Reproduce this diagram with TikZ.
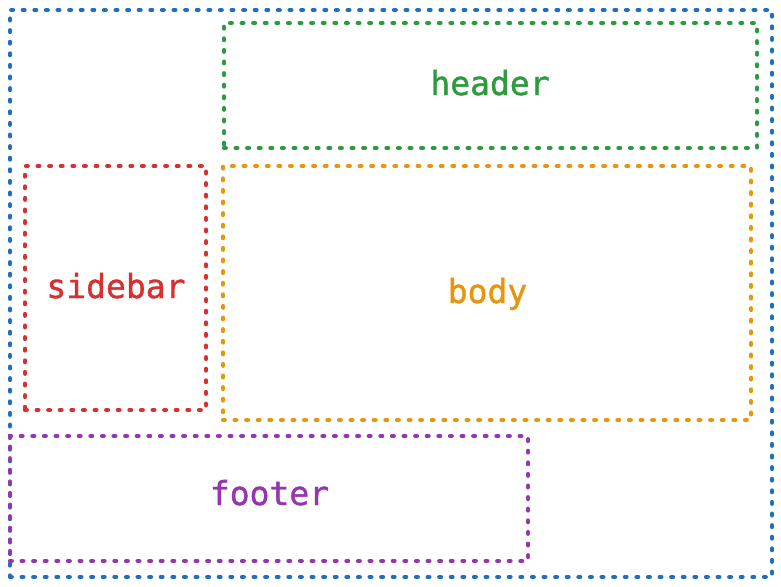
\documentclass[tikz,border=0pt]{standalone}
\usepackage{fontspec}
\newfontfamily\labelfont[FakeBold=1.2]{DejaVu Sans Mono}
\definecolor{cblue}{RGB}{31,111,191}
\definecolor{cgreen}{RGB}{46,154,62}
\definecolor{cred}{RGB}{214,48,49}
\definecolor{corange}{RGB}{232,149,14}
\definecolor{cpurple}{RGB}{148,54,176}
\tikzset{
  region/.style={draw, line width=4.2pt, line cap=round, dash pattern=on 1.8pt off 9.8pt, inner sep=0pt},
  regionlabel/.style={anchor=base, inner sep=0pt, font=\labelfont\fontsize{33}{40}\selectfont}
}
\begin{document}
\begin{tikzpicture}[x=1pt,y=-1pt]
\useasboundingbox (0,0) rectangle (781,586);
% outer container
\node[region, cblue, minimum width=762pt, minimum height=567pt] (outer) at (391,293.5) {};
% header
\node[region, cgreen, minimum width=533pt, minimum height=125pt] (header) at (490.5,85.5) {};
\node[regionlabel, cgreen] (headerlabel) at (490,95) {header};
% sidebar
\node[region, cred, minimum width=181pt, minimum height=244pt] (sidebar) at (115.5,288) {};
\node[regionlabel, cred] (sidebarlabel) at (116,298) {sidebar};
% body
\node[region, corange, minimum width=528pt, minimum height=254pt] (body) at (487,293) {};
\node[regionlabel, corange] (bodylabel) at (487.5,303) {body};
% footer
\node[region, cpurple, minimum width=518pt, minimum height=125pt] (footer) at (269,498.5) {};
\node[regionlabel, cpurple] (footerlabel) at (269.5,505) {footer};
\end{tikzpicture}
\end{document}
